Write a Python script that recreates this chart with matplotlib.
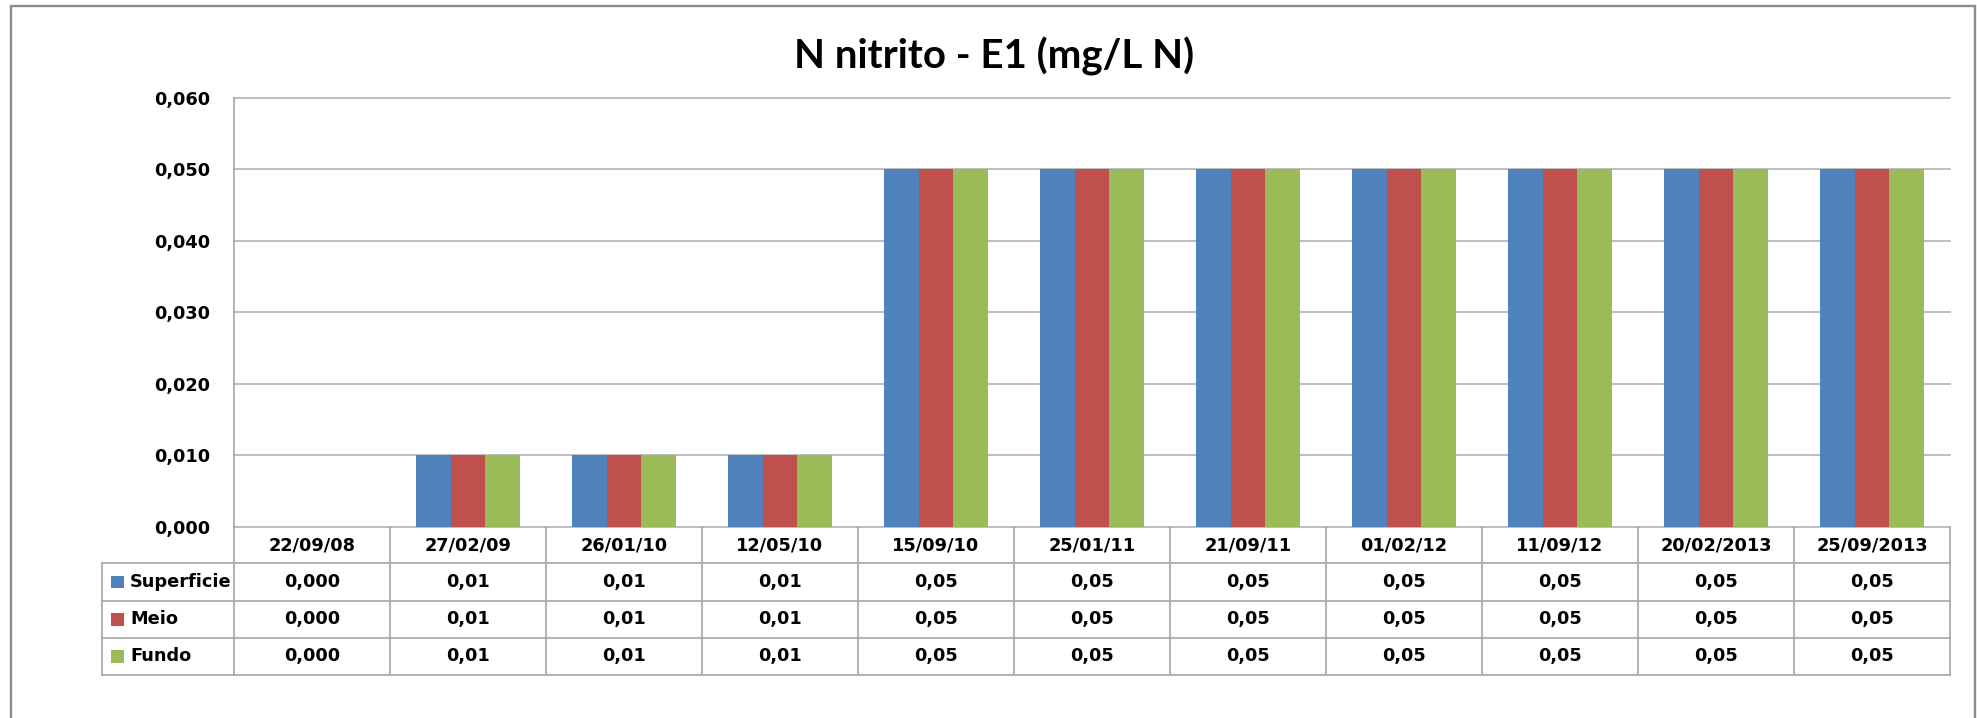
import matplotlib
matplotlib.use("Agg")
import matplotlib.pyplot as plt
from matplotlib.transforms import blended_transform_factory
from matplotlib.patches import Rectangle
from matplotlib.lines import Line2D
import numpy as np

# ---- data ----
dates = ["22/09/08", "27/02/09", "26/01/10", "12/05/10", "15/09/10", "25/01/11",
         "21/09/11", "01/02/12", "11/09/12", "20/02/2013", "25/09/2013"]
superficie = [0.000, 0.01, 0.01, 0.01, 0.05, 0.05, 0.05, 0.05, 0.05, 0.05, 0.05]
meio = [0.000, 0.01, 0.01, 0.01, 0.05, 0.05, 0.05, 0.05, 0.05, 0.05, 0.05]
fundo = [0.000, 0.01, 0.01, 0.01, 0.05, 0.05, 0.05, 0.05, 0.05, 0.05, 0.05]
decimals = [3, 2, 2, 2, 2, 2, 2, 2, 2, 2, 2]
series_names = ["Superficie", "Meio", "Fundo"]
series_values = [superficie, meio, fundo]
series_colors = ["#4F81BD", "#C0504D", "#9BBB59"]
yticks = [0.000, 0.010, 0.020, 0.030, 0.040, 0.050, 0.060]
title = "N nitrito - E1 (mg/L N)"

plt.rcParams['font.family'] = ['DejaVu Sans']
plt.rcParams['font.weight'] = 'bold'
TITLE_FONT = ['Lato', 'DejaVu Sans']

W, H, DPI = 1977, 718, 100
fig = plt.figure(figsize=(W / DPI, H / DPI), dpi=DPI)
fig.patch.set_facecolor("white")


def fx(px):
    return px / W


def fy(py):
    return 1 - py / H


GRID = "#B2B2B2"
LINE = "#A6A6A6"
TXT_SIZE = 12.8

# plot area
x_left, x_right, y_top, y_zero = 234, 1950, 98, 526.7
ax = fig.add_axes([fx(x_left), fy(y_zero), fx(x_right) - fx(x_left), fy(y_top) - fy(y_zero)])
n = len(dates)
x = np.arange(n)
bw = 1 / 4.5
for k, (vals, col) in enumerate(zip(series_values, series_colors)):
    ax.bar(x + (k - 1) * bw, vals, width=bw, color=col, edgecolor="none", zorder=3)

ax.set_xlim(-0.5, n - 0.5)
ax.set_ylim(0, 0.06)
for t in yticks:
    ax.axhline(t, color=GRID, lw=1.2, zorder=1, clip_on=False)
ax.set_yticks(yticks)
ax.set_yticklabels([f"{t:.3f}".replace(".", ",") for t in yticks])
ax.tick_params(axis="y", length=0, pad=17, labelsize=TXT_SIZE)
ax.set_xticks([])
for s in ["top", "right", "bottom"]:
    ax.spines[s].set_visible(False)
ax.spines["left"].set_color(LINE)
ax.spines["left"].set_linewidth(1.2)

# data table under the axis
trans = blended_transform_factory(ax.transData, fig.transFigure)
row_lines = [y_zero, 563.3, 601, 637.7, 675]
table_left = 101.7
lw = 1.2

# vertical separators between dates
for i in range(n + 1):
    fig.add_artist(Line2D([i - 0.5, i - 0.5], [fy(y_zero), fy(row_lines[-1])],
                          transform=trans, color=LINE, lw=lw))
# horizontal lines
for yl in row_lines[1:]:
    fig.add_artist(Line2D([-0.5, n - 0.5], [fy(yl), fy(yl)], transform=trans, color=LINE, lw=lw))
    fig.add_artist(Line2D([fx(table_left), fx(x_left)], [fy(yl), fy(yl)],
                          transform=fig.transFigure, color=LINE, lw=lw))
fig.add_artist(Line2D([fx(table_left), fx(table_left)], [fy(row_lines[1]), fy(row_lines[-1])],
                      transform=fig.transFigure, color=LINE, lw=lw))

# header row with dates
hdr_y = (row_lines[0] + row_lines[1]) / 2
for i, d in enumerate(dates):
    fig.text(0, 0, d, transform=trans, ha="center", va="center", fontsize=TXT_SIZE,
             fontweight="bold").set_position((i, fy(hdr_y)))

# value rows with legend keys
for r, (name, vals, col) in enumerate(zip(series_names, series_values, series_colors)):
    yc = (row_lines[r + 1] + row_lines[r + 2]) / 2
    fig.add_artist(Rectangle((fx(111), fy(yc + 6.3)), fx(13), 12.6 / H,
                             transform=fig.transFigure, facecolor=col, edgecolor="none"))
    fig.text(fx(130), fy(yc), name, ha="left", va="center", fontsize=TXT_SIZE, fontweight="bold")
    for i, v in enumerate(vals):
        fig.text(0, 0, f"{v:.{decimals[i]}f}".replace(".", ","), transform=trans,
                 ha="center", va="center", fontsize=TXT_SIZE,
                 fontweight="bold").set_position((i, fy(yc)))

# title
fig.text(fx(994), fy(68), title, ha="center", va="baseline", fontsize=29,
         fontweight="bold", family=TITLE_FONT)

# chart area border
fig.add_artist(Rectangle((fx(10.5), fy(760)), fx(1975) - fx(10.5), (760 - 6) / H,
                         transform=fig.transFigure, fill=False, edgecolor="#8C8C8C", lw=1.7))

fig.savefig("out.png", dpi=DPI)
